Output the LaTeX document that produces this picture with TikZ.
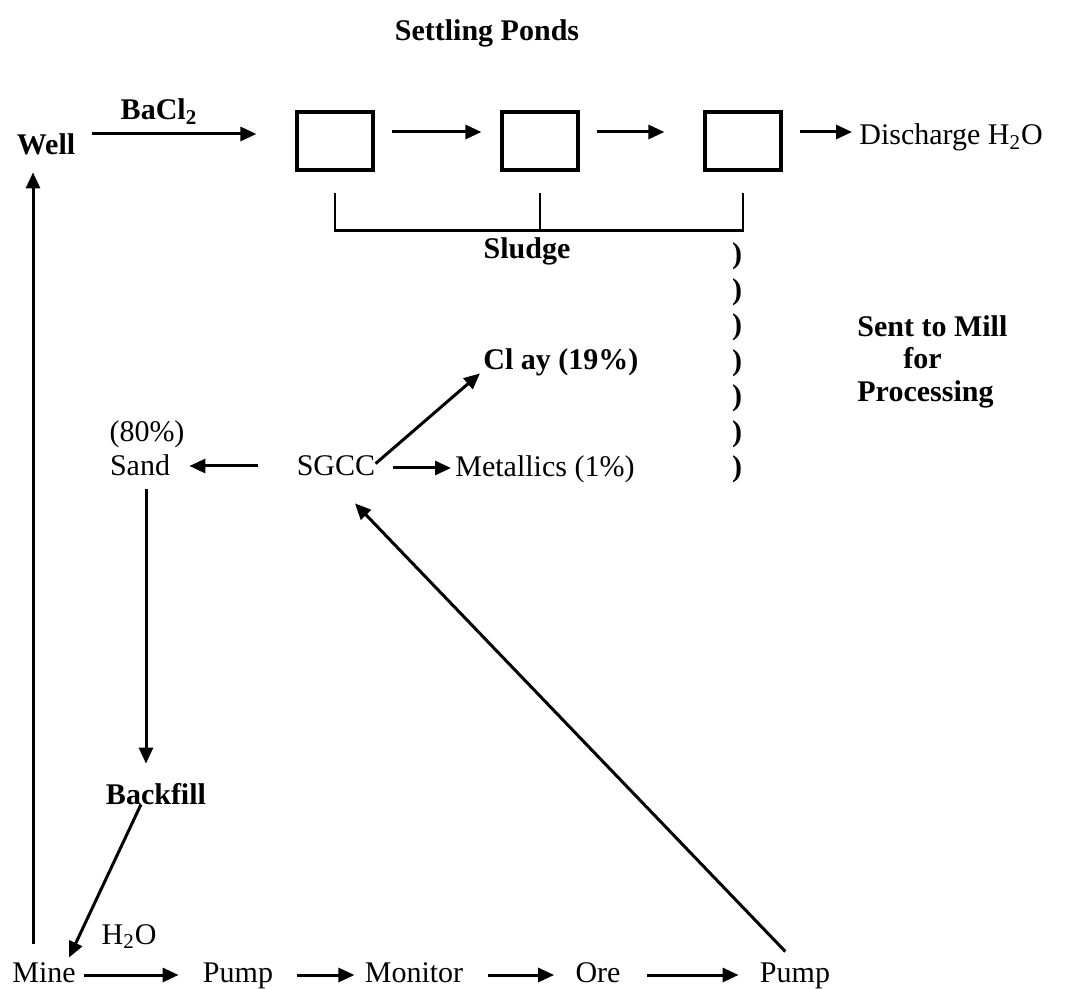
\documentclass[tikz,border=0pt]{standalone}
\usepackage{fontspec}
\setmainfont{Liberation Serif}
\usetikzlibrary{arrows.meta}
\tikzset{
  lbl/.style={font=\fontsize{15}{18}\selectfont, inner sep=0pt, text height=10pt, text depth=0pt},
  lblb/.style={lbl, font=\fontsize{15}{18}\selectfont\bfseries},
  pond/.style={draw, line width=1.6pt, minimum width=38pt, minimum height=29pt, inner sep=0pt},
  flow/.style={line width=1.5pt, -{Triangle[length=8pt,width=7pt]}},
  wire/.style={line width=1.4pt},
}
\begin{document}
\begin{tikzpicture}[x=0.5pt, y=-0.5pt]
    \useasboundingbox (0,0) rectangle (1071,989);
    % Settling ponds
    \node[lblb] (ponds) at (487,31) {Settling Ponds};
    \node[lblb] (well) at (46,145) {Well};
    \node[lblb] (bacl) at (159,110) {BaCl\textsubscript{2}};
    \node[pond] (p1) at (335,141) {};
    \node[pond] (p2) at (540,141) {};
    \node[pond] (p3) at (743,141) {};
    \node[lbl, anchor=west] (dis) at (859,135) {Discharge H\textsubscript{2}O};
    \draw[flow, shorten <=8pt, shorten >=19.5pt] ([yshift=5.5pt]well.east) -- ([yshift=5.5pt]well.east -| p1.west);
    \draw[flow, shorten <=8.5pt, shorten >=9.5pt] ([yshift=4.5pt]p1.east) -- ([yshift=4.5pt]p2.west);
    \draw[flow, shorten <=8.5pt, shorten >=19.5pt] ([yshift=4.5pt]p2.east) -- ([yshift=4.5pt]p3.west);
    \draw[flow, shorten <=8.5pt, shorten >=3.5pt] ([yshift=4.5pt]p3.east) -- ([yshift=4.5pt]p3.east -| dis.west);
    % Sludge
    \draw[wire] ([yshift=-10.5pt]p1.south) -- ([yshift=-29.5pt]p1.south) -- ([yshift=-29.5pt]p3.south) -- ([yshift=-10.5pt]p3.south);
    \draw[wire] ([yshift=-10.5pt]p2.south) -- ([yshift=-29.5pt]p2.south);
    \node[lblb] (sludge) at (527,249) {Sludge};
    \foreach \k in {0,...,6}
        \node[lblb] (par\k) at (737,254+35.5*\k) {)};
    \node[lblb, anchor=west] (mill1) at (857,327) {Sent to Mill};
    \node[lblb, anchor=west] (mill2) at (903,359) {for};
    \node[lblb, anchor=west] (mill3) at (857,392) {Processing};
    % Separation
    \node[lblb, anchor=west] (clay) at (483,360) {Cl ay (19\%)};
    \node[lbl] (pct) at (147,432) {(80\%)};
    \node[lbl] (sand) at (140,466) {Sand};
    \node[lbl] (sgcc) at (336,466) {SGCC};
    \node[lbl, anchor=west] (metal) at (455,467) {Metallics (1\%)};
    \draw[flow, shorten <=19pt, shorten >=9.5pt] (sgcc.west) -- (sand.east);
    \draw[flow, shorten <=8.5pt, shorten >=2pt] ([yshift=-1pt]sgcc.east) -- ([yshift=-1pt]sgcc.east -| metal.west);
    \draw[flow] ([yshift=-4pt]sgcc.north east) -- ([xshift=-1.5pt,yshift=-1.5pt]clay.south west);
    % Mine circuit
    \node[lblb] (backfill) at (156,794) {Backfill};
    \node[lbl] (water) at (129,934) {H\textsubscript{2}O};
    \node[lbl] (mine) at (44,972) {Mine};
    \node[lbl] (pumpa) at (238,972) {Pump};
    \node[lbl] (monitor) at (414,972) {Monitor};
    \node[lbl] (ore) at (598,972) {Ore};
    \node[lbl] (pumpb) at (795,972) {Pump};
    \draw[flow, shorten <=4pt, shorten >=12pt] ([yshift=-1.5pt]mine.east) -- ([yshift=-1.5pt]pumpa.west);
    \draw[flow, shorten <=12pt, shorten >=5pt] ([yshift=-1.5pt]pumpa.east) -- ([yshift=-1.5pt]monitor.west);
    \draw[flow, shorten <=12pt, shorten >=10.5pt] ([yshift=-1.5pt]monitor.east) -- ([yshift=-1.5pt]ore.west);
    \draw[flow, shorten <=13pt, shorten >=10.5pt] ([yshift=-1.5pt]ore.east) -- ([yshift=-1.5pt]pumpb.west);
    \draw[flow, shorten <=7pt] (pumpb.north) -- ([xshift=9.5pt,yshift=-13.5pt]sgcc.south);
    \draw[flow, shorten <=6.5pt, shorten >=10pt] ([xshift=3pt]sand.south) -- ([xshift=3pt]sand.south |- backfill.north);
    \draw[flow] ([xshift=-7.5pt]backfill.south) -- ([xshift=12.5pt,yshift=2pt]mine.north);
    \draw[flow, shorten <=9pt, shorten >=8.5pt] ([xshift=-5.5pt]mine.north) -- ([xshift=-6.5pt]well.south);
\end{tikzpicture}
\end{document}
